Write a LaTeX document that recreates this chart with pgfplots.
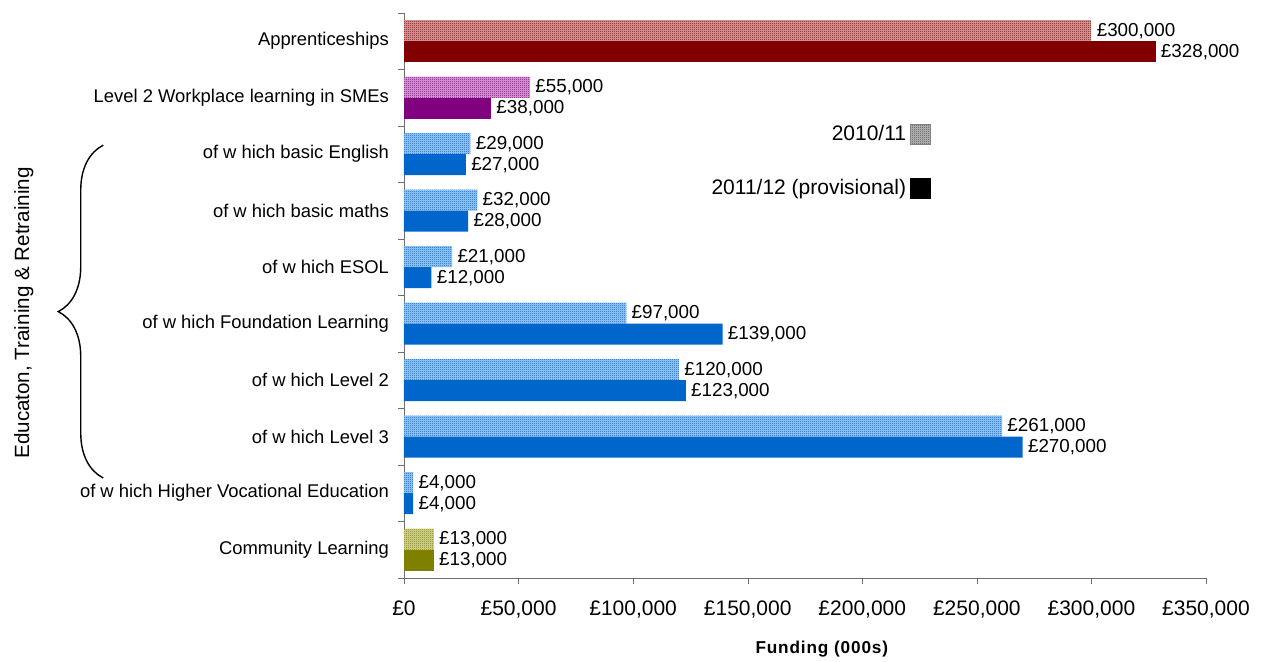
\documentclass[border=0pt]{standalone}
\usepackage{fontspec}
\setmainfont{Liberation Sans}
\usepackage{pgfplots}
\pgfplotsset{compat=1.18}
\usetikzlibrary{patterns,decorations.pathreplacing}

\definecolor{appr}{HTML}{800000}
\definecolor{smes}{HTML}{800080}
\definecolor{etr}{HTML}{0066CC}
\definecolor{comm}{HTML}{808000}
\definecolor{axisgray}{HTML}{6E6E6E}

% fine checkerboard like the 2010/11 bars
\pgfdeclarepatternformonly{checker}{\pgfpointorigin}{\pgfqpoint{1pt}{1pt}}{\pgfqpoint{1pt}{1pt}}{
  \pgfpathrectangle{\pgfpointorigin}{\pgfqpoint{0.5pt}{0.5pt}}
  \pgfpathrectangle{\pgfqpoint{0.5pt}{0.5pt}}{\pgfqpoint{0.5pt}{0.5pt}}
  \pgfusepath{fill}}

\pgfplotsset{
  old/.style={xbar, bar width=10.5pt, bar shift=5.25pt, draw=none,
    fill=#1!35!white, postaction={pattern=checker, pattern color=#1},
    every node near coord/.append style={yshift=5.25pt}, forget plot},
  new/.style={xbar, bar width=10.5pt, bar shift=-5.25pt, draw=none,
    fill=#1, every node near coord/.append style={yshift=-5.25pt}, forget plot},
}

\begin{document}
\begin{tikzpicture}[font=\fontsize{9.2}{11}\selectfont]
\useasboundingbox (-202pt,-42pt) rectangle (430pt,289pt);
\begin{axis}[
  scale only axis, width=401pt, height=282.5pt,
  at={(0,0)}, anchor=south west,
  xmin=0, xmax=350000, ymin=-0.5, ymax=9.5,
  axis x line*=bottom, axis y line*=left,
  axis line style={draw=axisgray},
  tick align=outside,
  xtick={0,50000,...,350000},
  xticklabels={{£0},{£50,000},{£100,000},{£150,000},{£200,000},{£250,000},{£300,000},{£350,000}},
  major tick length=3pt,
  xtick style={draw=axisgray},
  scaled x ticks=false,
  xticklabel style={yshift=-5pt, font=\fontsize{10.5}{12}\selectfont},
  ytick={0,...,9},
  yticklabels={Community Learning, of w hich Higher Vocational Education, of w hich Level 3, of w hich Level 2, of w hich Foundation Learning, of w hich ESOL, of w hich basic maths, of w hich basic English, Level 2 Workplace learning in SMEs, Apprenticeships},
  ytick style={draw=none},
  minor ytick={-0.5,0.5,...,9.5},
  minor tick length=3pt,
  minor y tick style={draw=axisgray},
  yticklabel style={xshift=-1pt},
  xlabel={\fontsize{8.6}{10}\selectfont\bfseries\addfontfeatures{LetterSpace=5}Funding (000s)},
  xlabel style={at={(axis description cs:0.521,-0.126)}, anchor=center},
  point meta=x,
  nodes near coords={£\pgfmathprintnumber[fixed, precision=0, 1000 sep={,}, /pgf/number format/assume math mode=true]{\pgfplotspointmeta}},
  nodes near coords style={anchor=west, font=\fontsize{9.4}{11}\selectfont, inner sep=2.5pt},
  legend style={at={(rel axis cs:0.665,0.816)}, anchor=north east, draw=none, fill=none,
    row sep=14pt, font=\fontsize{10.5}{12}\selectfont},
  legend cell align=right,
  legend plot pos=right,
  clip=false,
]
\addlegendimage{legend image code/.code={\fill[gray!55] (0pt,-5pt) rectangle (10pt,5pt); \draw[draw=gray, pattern=checker, pattern color=black!70] (0pt,-5pt) rectangle (10pt,5pt);}}
\addlegendentry{2010/11}
\addlegendimage{legend image code/.code={\fill[black] (0pt,-5pt) rectangle (10pt,5pt);}}
\addlegendentry{2011/12 (provisional)}

% 2010/11
\addplot[old=appr] coordinates {(300000,9)};
\addplot[old=smes] coordinates {(55000,8)};
\addplot[old=etr] coordinates {(29000,7) (32000,6) (21000,5) (97000,4) (120000,3) (261000,2) (4000,1)};
\addplot[old=comm] coordinates {(13000,0)};
% 2011/12 (provisional)
\addplot[new=appr] coordinates {(328000,9)};
\addplot[new=smes] coordinates {(38000,8)};
\addplot[new=etr] coordinates {(27000,7) (28000,6) (12000,5) (139000,4) (123000,3) (270000,2) (4000,1)};
\addplot[new=comm] coordinates {(13000,0)};

\draw[line width=0.7pt, decorate, decoration={brace, amplitude=22.5pt}]
  (rel axis cs:-0.375,0.177) -- (rel axis cs:-0.375,0.766);
\node[rotate=90, font=\fontsize{10.3}{12}\selectfont] at (rel axis cs:-0.474,0.469) {Educaton, Training \& Retraining};
\end{axis}
\end{tikzpicture}
\end{document}
